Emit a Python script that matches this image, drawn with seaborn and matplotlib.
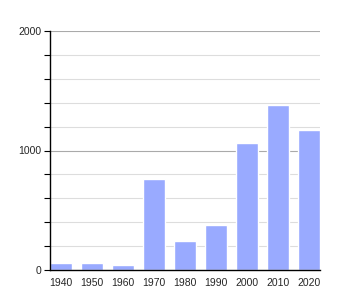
import matplotlib
matplotlib.use("Agg")
import matplotlib.pyplot as plt
import seaborn as sns
import pandas as pd

years = ["1940", "1950", "1960", "1970", "1980", "1990", "2000", "2010", "2020"]
population = [60, 60, 42, 762, 243, 377, 1063, 1381, 1172]
y_ticks = [0, 1000, 2000]
minor_ticks = [200, 400, 600, 800, 1200, 1400, 1600, 1800]

df = pd.DataFrame({"year": years, "pop": population})

sns.set_style("white")
plt.rcParams["font.family"] = ["Liberation Sans", "DejaVu Sans"]

fig = plt.figure(figsize=(3.5, 3.0), dpi=100)
ax = fig.add_axes([50/350, 30/300, 270/350, 239/300])

for v in minor_ticks:
    ax.axhline(v, color="#dddddd", lw=0.8, zorder=0)
for v in y_ticks[1:]:
    ax.axhline(v, color="#aaaaaa", lw=0.8, zorder=0)

sns.barplot(data=df, x="year", y="pop", color="#99aaff", saturation=1,
            width=0.7, ax=ax, zorder=2)

ax.set_xlim(-0.35, len(years) - 0.65)
ax.set_ylim(0, 2000)
ax.set_yticks(y_ticks)
ax.set_yticks(minor_ticks, minor=True)
ax.set_xlabel("")
ax.set_ylabel("")
for s in ["top", "right"]:
    ax.spines[s].set_visible(False)
for s in ["left", "bottom"]:
    ax.spines[s].set_color("black")
    ax.spines[s].set_linewidth(1.0)
ax.tick_params(axis="y", which="both", left=True, length=4, width=0.8,
               color="black", labelsize=7.5, pad=2)
ax.tick_params(axis="x", bottom=False, labelsize=7.5, pad=2)

fig.savefig("out.png", dpi=100)
